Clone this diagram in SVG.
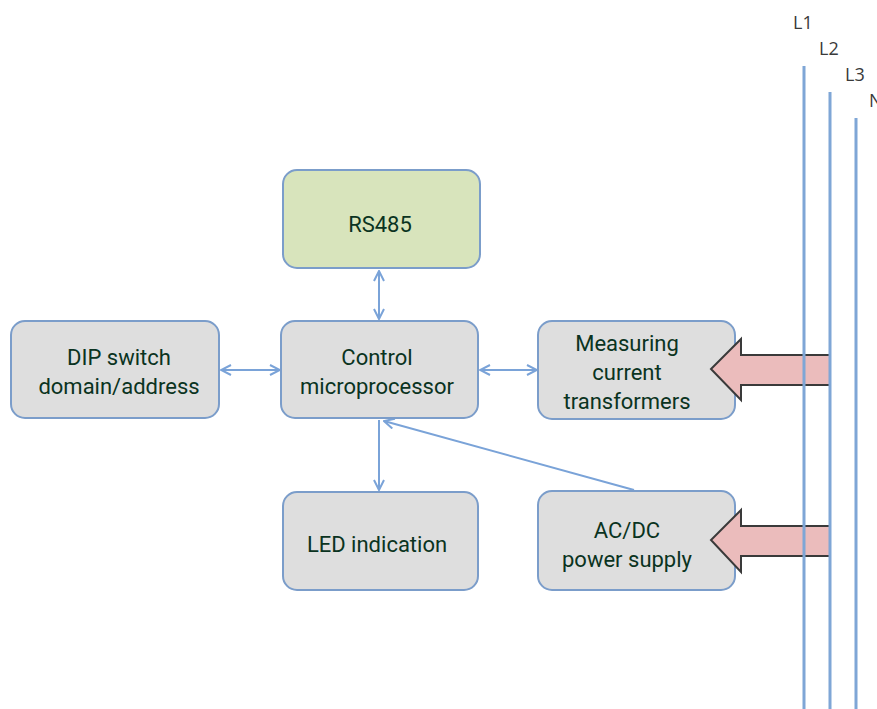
<svg xmlns="http://www.w3.org/2000/svg" width="877" height="709" viewBox="0 0 877 709">
  <style>
    .box { fill: #dedede; stroke: #7b9dca; stroke-width: 2; }
    .green { fill: #d8e4bc; }
    .lbl { font-family: Roboto, "Liberation Sans", sans-serif; font-size: 22px; fill: #0a3321; text-anchor: middle; }
    .bus { stroke: #7fa6d6; stroke-width: 3; fill: none; }
    .busname { font-family: "Open Sans", "Liberation Sans", sans-serif; font-size: 18px; fill: #3a3a3a; }
    .link { stroke: #7aa3d8; stroke-width: 2; fill: none; }
    .feed { fill: #ebbcbc; stroke: #3a3a3a; stroke-width: 2; stroke-linejoin: miter; }
  </style>
  <defs>
    <marker id="head" viewBox="0 0 12 12" refX="11" refY="6" markerWidth="12" markerHeight="12" markerUnits="userSpaceOnUse" orient="auto-start-reverse">
      <path d="M1,1 L11,6 L1,11" fill="none" stroke="#7aa3d8" stroke-width="2"/>
    </marker>
  </defs>
  <rect width="877" height="709" fill="#ffffff"/>

  <g id="connectors">
    <line class="link" x1="379" y1="271" x2="379" y2="319" marker-start="url(#head)" marker-end="url(#head)"/>
    <line class="link" x1="221" y1="370" x2="280" y2="370" marker-start="url(#head)" marker-end="url(#head)"/>
    <line class="link" x1="480" y1="370" x2="537" y2="370" marker-start="url(#head)" marker-end="url(#head)"/>
    <line class="link" x1="379" y1="420" x2="379" y2="490" marker-end="url(#head)"/>
    <line class="link" x1="634" y1="490" x2="384" y2="421" marker-end="url(#head)"/>
  </g>

  <g id="rs485">
    <rect class="box green" x="283" y="170" width="197" height="98" rx="14"/>
    <text class="lbl" x="380" y="232">RS485</text>
  </g>

  <g id="control">
    <rect class="box" x="281" y="321" width="197" height="97" rx="14"/>
    <text class="lbl" x="377" y="365">Control</text>
    <text class="lbl" x="377" y="394">microprocessor</text>
  </g>

  <g id="dip">
    <rect class="box" x="11" y="321" width="208" height="97" rx="14"/>
    <text class="lbl" x="119" y="365">DIP switch</text>
    <text class="lbl" x="119" y="394">domain/address</text>
  </g>

  <g id="measuring">
    <rect class="box" x="538" y="321" width="197" height="98" rx="14"/>
    <text class="lbl" x="627" y="351">Measuring</text>
    <text class="lbl" x="627" y="380">current</text>
    <text class="lbl" x="627" y="409">transformers</text>
  </g>

  <g id="led">
    <rect class="box" x="283" y="492" width="195" height="98" rx="14"/>
    <text class="lbl" x="377" y="552">LED indication</text>
  </g>

  <g id="acdc">
    <rect class="box" x="538" y="491" width="197" height="99" rx="14"/>
    <text class="lbl" x="627" y="538">AC/DC</text>
    <text class="lbl" x="627" y="567">power supply</text>
  </g>

  <!-- feed arrows from the mains into the measuring and supply blocks -->
  <g id="feeds">
    <path class="feed" d="M830,355 L741,355 L741,339 L711,369 L741,400 L741,385 L830,385"/>
    <path class="feed" d="M830,526 L741,526 L741,510 L711,540 L741,572 L741,556 L830,556"/>
  </g>

  <!-- three-phase mains conductors -->
  <g id="mains">
    <line class="bus" x1="804" y1="66" x2="804" y2="709"/>
    <line class="bus" x1="830" y1="92" x2="830" y2="709"/>
    <line class="bus" x1="856" y1="118" x2="856" y2="709"/>
    <text class="busname" x="793" y="29">L1</text>
    <text class="busname" x="819" y="55">L2</text>
    <text class="busname" x="845" y="81">L3</text>
    <text class="busname" x="869" y="107">N</text>
  </g>
</svg>
